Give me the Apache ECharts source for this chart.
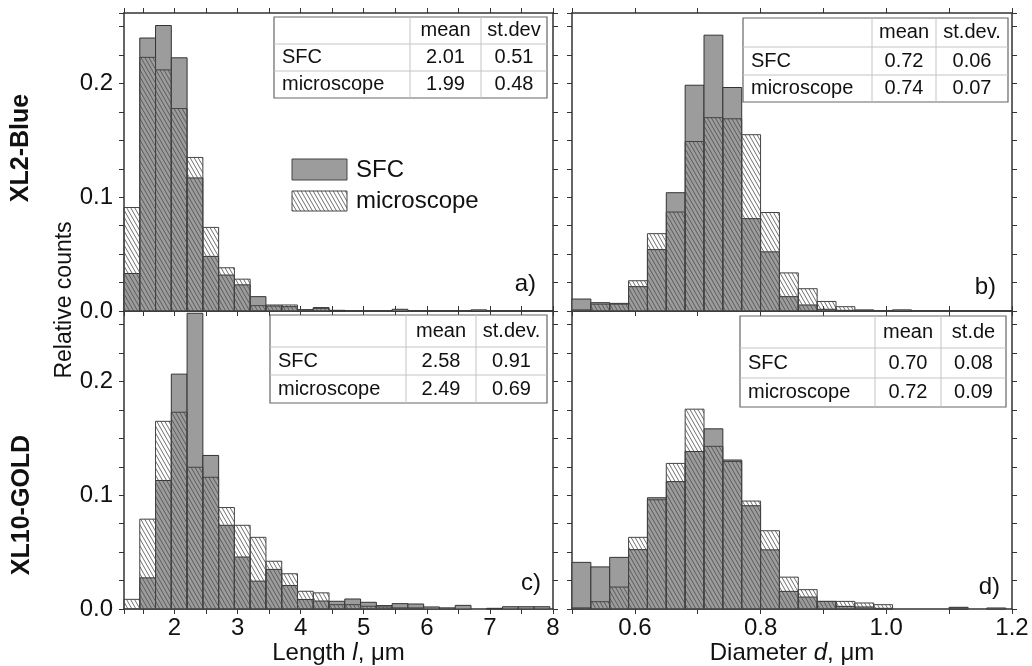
<!DOCTYPE html>
<html>
<head>
<meta charset="utf-8">
<title>SFC vs microscope</title>
<script src="https://cdn.jsdelivr.net/npm/echarts@6/dist/echarts.min.js"></script>
<style>
html, body { margin: 0; padding: 0; background: #fff; }
#chart { width: 1032px; height: 666px; }
</style>
</head>
<body>
<div id="chart"></div>
<script>
// histogram bins (start, width)
const lengthBinStart = 1.2, lengthBinWidth = 0.25;
const diamBinStart = 0.5, diamBinWidth = 0.03;

// XL2-Blue, length
const blueLengthSFC = [0.033, 0.240, 0.251, 0.2226, 0.117, 0.048, 0.0316, 0.023, 0.0126, 0.0044, 0.0038, 0.0012, 0.003, 0.0006, 0, 0, 0, 0.0015, 0, 0, 0, 0, 0.001, 0, 0, 0, 0, 0];
const blueLengthMicro = [0.091, 0.223, 0.212, 0.178, 0.135, 0.0735, 0.038, 0.028, 0.0047, 0.0053, 0.0053, 0.001, 0.0023, 0, 0, 0, 0, 0, 0, 0, 0, 0, 0, 0, 0, 0, 0, 0];
// XL2-Blue, diameter
const blueDiamSFC = [0.0105, 0.0073, 0.0067, 0.0214, 0.054, 0.104, 0.1985, 0.2425, 0.1965, 0.0812, 0.052, 0.0126, 0.0053, 0.0015, 0.0006, 0.0005, 0, 0.001, 0, 0, 0, 0, 0, 0];
const blueDiamMicro = [0.001, 0.006, 0.006, 0.0266, 0.068, 0.087, 0.149, 0.170, 0.169, 0.155, 0.0866, 0.0335, 0.0196, 0.0084, 0.0038, 0.001, 0, 0, 0, 0, 0, 0, 0, 0];
// XL10-GOLD, length
const goldLengthSFC = [0, 0.0274, 0.113, 0.2065, 0.260, 0.135, 0.0736, 0.0457, 0.0245, 0.0348, 0.0206, 0.0083, 0.0070, 0.0068, 0.0088, 0.0059, 0.003, 0.0047, 0.0044, 0.0018, 0.001, 0.0032, 0, 0.0006, 0.002, 0.002, 0.002, 0];
const goldLengthMicro = [0.0085, 0.079, 0.165, 0.173, 0.1246, 0.1158, 0.0892, 0.0736, 0.063, 0.042, 0.031, 0.0156, 0.0142, 0.0038, 0.0038, 0.0024, 0.0018, 0.001, 0.001, 0, 0, 0, 0, 0, 0, 0, 0, 0];
// XL10-GOLD, diameter
const goldDiamSFC = [0.041, 0.037, 0.0454, 0.0522, 0.0978, 0.112, 0.1385, 0.1584, 0.131, 0.0908, 0.052, 0.0155, 0.0105, 0.0067, 0.0023, 0.0018, 0.0006, 0, 0, 0, 0.0015, 0, 0.0009, 0];
const goldDiamMicro = [0.001, 0.0064, 0.0193, 0.063, 0.096, 0.128, 0.1757, 0.143, 0.1297, 0.0949, 0.0688, 0.028, 0.017, 0.0067, 0.0067, 0.0053, 0.0038, 0, 0, 0, 0.0012, 0, 0, 0];

// inset tables
const statRows = ['SFC', 'microscope'];
const blueLengthMean = [2.01, 1.99], blueLengthSd = [0.51, 0.48];
const blueDiamMean = [0.72, 0.74], blueDiamSd = [0.06, 0.07];
const goldLengthMean = [2.58, 2.49], goldLengthSd = [0.91, 0.69];
const goldDiamMean = [0.70, 0.72], goldDiamSd = [0.08, 0.09];
const headersA = ['mean', 'st.dev'];
const headersB = ['mean', 'st.dev.'];
const headersC = ['mean', 'st.dev.'];
const headersD = ['mean', 'st.de'];

const fontFamily = "'Liberation Sans', Arial, sans-serif";
const grey = '#9c9c9c';

function makeHatch() {
    const c = document.createElement('canvas');
    c.width = 4;
    c.height = 7;
    const ctx = c.getContext('2d');
    ctx.strokeStyle = '#4a4a4a';
    ctx.lineWidth = 0.8;
    [-4, 0, 4].forEach(function (dx) {
        ctx.beginPath();
        ctx.moveTo(dx, 0);
        ctx.lineTo(dx + 4, 7);
        ctx.stroke();
    });
    return c;
}
const hatch = { image: makeHatch(), repeat: 'repeat' };

function toBins(values, start, width) {
    return values.map(function (v, i) {
        return [start + i * width, start + (i + 1) * width, v];
    });
}

function barRenderer(fill, stroke) {
    return function (params, api) {
        if (!api.value(2)) return null;
        const p0 = api.coord([api.value(0), api.value(2)]);
        const p1 = api.coord([api.value(1), 0]);
        const cs = params.coordSys;
        const shape = echarts.graphic.clipRectByRect(
            { x: p0[0], y: p0[1], width: p1[0] - p0[0], height: p1[1] - p0[1] },
            { x: cs.x, y: cs.y, width: cs.width, height: cs.height }
        );
        if (!shape) return null;
        return { type: 'rect', shape: shape, style: { fill: fill, stroke: stroke, lineWidth: 1 } };
    };
}

const grids = [
    { left: 124, top: 13, width: 429, height: 298 },
    { left: 572, top: 13, width: 440, height: 298 },
    { left: 124, top: 311, width: 429, height: 298 },
    { left: 572, top: 311, width: 440, height: 298 }
];

const lengthAxis = {
    min: 1.2, max: 8, splitNumber: 14,
    fmt: function (v) { return Math.abs(v - Math.round(v)) < 1e-6 ? String(Math.round(v)) : ''; }
};
const diamAxis = {
    min: 0.5, max: 1.2, interval: 0.1,
    fmt: function (v) {
        const r = Math.round(v * 10);
        return (r % 2 === 0 && Math.abs(v * 10 - r) < 1e-6) ? v.toFixed(1) : '';
    }
};

const lineStyle = { color: '#333', width: 1.5 };
const tickStyle = { show: true, inside: false, length: 5, lineStyle: { color: '#333', width: 1 } };
const labelStyle = { fontSize: 24, color: '#111', fontFamily: fontFamily };

function xAxis(g, ax, position, showLabels, name) {
    return {
        type: 'value', gridIndex: g, position: position,
        min: ax.min, max: ax.max, interval: ax.interval, splitNumber: ax.splitNumber,
        axisLine: { show: true, onZero: false, lineStyle: lineStyle },
        axisTick: tickStyle,
        splitLine: { show: false },
        axisLabel: Object.assign({ show: showLabels, formatter: ax.fmt, margin: 7 }, labelStyle),
        name: name || '',
        nameLocation: 'middle',
        nameGap: 31,
        nameTextStyle: Object.assign({ rich: { i: Object.assign({ fontStyle: 'italic' }, labelStyle) } }, labelStyle)
    };
}

function yAxis(g, position, showLabels) {
    return {
        type: 'value', gridIndex: g, position: position,
        min: 0, max: 0.262, interval: 0.025,
        axisLine: { show: true, onZero: false, lineStyle: lineStyle },
        axisTick: tickStyle,
        splitLine: { show: false },
        axisLabel: Object.assign({
            show: showLabels, margin: 11,
            formatter: function (v) {
                const r = Math.round(v * 1000);
                return (r % 100 === 0 && Math.abs(v * 1000 - r) < 1e-6) ? v.toFixed(1) : '';
            }
        }, labelStyle)
    };
}

const xAxes = [
    xAxis(0, lengthAxis, 'bottom', false), xAxis(0, lengthAxis, 'top', false),
    xAxis(1, diamAxis, 'bottom', false), xAxis(1, diamAxis, 'top', false),
    xAxis(2, lengthAxis, 'bottom', true, 'Length {i|l}, \u03bcm'), xAxis(2, lengthAxis, 'top', false),
    xAxis(3, diamAxis, 'bottom', true, 'Diameter {i|d}, \u03bcm'), xAxis(3, diamAxis, 'top', false)
];
const yAxes = [
    yAxis(0, 'left', true), yAxis(0, 'right', false),
    yAxis(1, 'left', false), yAxis(1, 'right', false),
    yAxis(2, 'left', true), yAxis(2, 'right', false),
    yAxis(3, 'left', false), yAxis(3, 'right', false)
];

const panels = [
    { sfc: blueLengthSFC, micro: blueLengthMicro, start: lengthBinStart, width: lengthBinWidth },
    { sfc: blueDiamSFC, micro: blueDiamMicro, start: diamBinStart, width: diamBinWidth },
    { sfc: goldLengthSFC, micro: goldLengthMicro, start: lengthBinStart, width: lengthBinWidth },
    { sfc: goldDiamSFC, micro: goldDiamMicro, start: diamBinStart, width: diamBinWidth }
];

const series = [];
panels.forEach(function (p, g) {
    series.push({
        type: 'custom', name: 'SFC', xAxisIndex: 2 * g, yAxisIndex: 2 * g,
        renderItem: barRenderer(grey, '#333'),
        encode: { x: [0, 1], y: 2 },
        data: toBins(p.sfc, p.start, p.width), z: 2
    });
    series.push({
        type: 'custom', name: 'microscope', xAxisIndex: 2 * g, yAxisIndex: 2 * g,
        renderItem: barRenderer(hatch, '#444'),
        encode: { x: [0, 1], y: 2 },
        data: toBins(p.micro, p.start, p.width), z: 3
    });
});

function text(str, x, y, size, opts) {
    opts = opts || {};
    return {
        type: 'text', x: x, y: y, z: 110, rotation: opts.rotation || 0,
        style: {
            text: str, fill: '#111', fontSize: size, fontFamily: fontFamily,
            fontWeight: opts.bold ? 'bold' : 'normal',
            align: opts.align || 'center', verticalAlign: 'middle',
            textAlign: opts.align || 'center', textVerticalAlign: 'middle'
        }
    };
}

function table(box, headers, mean, sd) {
    const els = [];
    els.push({ type: 'rect', z: 100, shape: { x: box.x0, y: box.y0, width: box.x3 - box.x0, height: box.y3 - box.y0 },
        style: { fill: '#fff', stroke: '#666', lineWidth: 1.2 } });
    [box.x1, box.x2].forEach(function (x) {
        els.push({ type: 'line', z: 101, shape: { x1: x, y1: box.y0, x2: x, y2: box.y3 }, style: { stroke: '#c4c4c4', lineWidth: 1 } });
    });
    [box.y1, box.y2].forEach(function (y) {
        els.push({ type: 'line', z: 101, shape: { x1: box.x0, y1: y, x2: box.x3, y2: y }, style: { stroke: '#c4c4c4', lineWidth: 1 } });
    });
    const cx1 = (box.x1 + box.x2) / 2, cx2 = (box.x2 + box.x3) / 2;
    const rowsY = [(box.y0 + box.y1) / 2, (box.y1 + box.y2) / 2, (box.y2 + box.y3) / 2];
    els.push(text(headers[0], cx1, rowsY[0], 20));
    els.push(text(headers[1], cx2, rowsY[0], 20));
    statRows.forEach(function (name, i) {
        els.push(text(name, box.x0 + 8, rowsY[i + 1], 20, { align: 'left' }));
        els.push(text(mean[i].toFixed(2), cx1, rowsY[i + 1], 20));
        els.push(text(sd[i].toFixed(2), cx2, rowsY[i + 1], 20));
    });
    return els;
}

const graphics = [].concat(
    table({ x0: 274, x1: 410, x2: 481, x3: 547, y0: 17, y1: 44, y2: 71, y3: 98 }, headersA, blueLengthMean, blueLengthSd),
    table({ x0: 743, x1: 872, x2: 936, x3: 1008, y0: 18, y1: 47, y2: 75, y3: 102 }, headersB, blueDiamMean, blueDiamSd),
    table({ x0: 270, x1: 406, x2: 476, x3: 547, y0: 315, y1: 347, y2: 375, y3: 403 }, headersC, goldLengthMean, goldLengthSd),
    table({ x0: 740, x1: 875, x2: 941, x3: 1006, y0: 316, y1: 348, y2: 378, y3: 407 }, headersD, goldDiamMean, goldDiamSd),
    [
        // legend
        { type: 'rect', z: 100, shape: { x: 292, y: 159, width: 55, height: 21 }, style: { fill: grey, stroke: '#444', lineWidth: 1 } },
        { type: 'rect', z: 100, shape: { x: 292, y: 191, width: 55, height: 20 }, style: { fill: hatch, stroke: '#444', lineWidth: 1 } },
        text('SFC', 356, 170, 24, { align: 'left' }),
        text('microscope', 356, 201, 24, { align: 'left' }),
        // panel letters
        text('a)', 536, 284, 24, { align: 'right' }),
        text('b)', 996, 287, 24, { align: 'right' }),
        text('c)', 541, 583, 24, { align: 'right' }),
        text('d)', 1000, 587, 24, { align: 'right' }),
        // side titles
        text('Relative counts', 65, 300, 23, { rotation: Math.PI / 2 }),
        text('XL2-Blue', 21, 148, 25, { rotation: Math.PI / 2, bold: true }),
        text('XL10-GOLD', 22, 505, 25, { rotation: Math.PI / 2, bold: true })
    ]
);

const chart = echarts.init(document.getElementById('chart'), null, { renderer: 'canvas' });
chart.setOption({
    animation: false,
    backgroundColor: '#fff',
    grid: grids,
    xAxis: xAxes,
    yAxis: yAxes,
    series: series,
    graphic: { elements: graphics }
});
window.onresize = function () { chart.resize(); };
</script>
</body>
</html>
